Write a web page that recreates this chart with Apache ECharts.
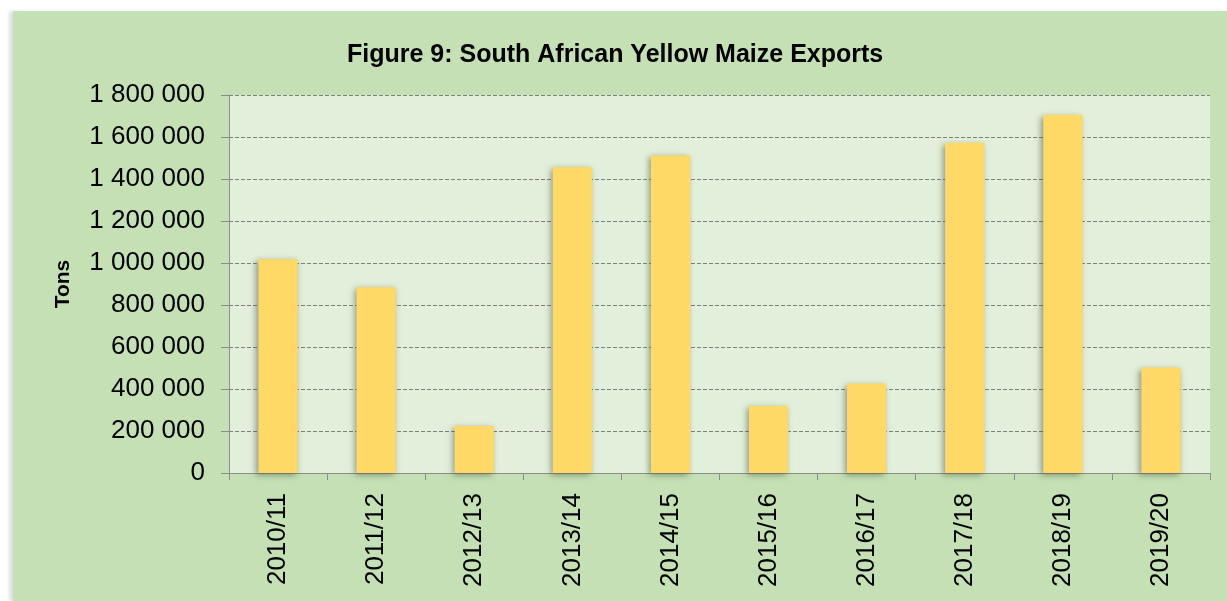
<!DOCTYPE html>
<html>
<head>
<meta charset="utf-8">
<script src="https://cdn.jsdelivr.net/npm/echarts@6/dist/echarts.min.js"></script>
<style>
  html, body { margin: 0; padding: 0; background: #ffffff; width: 1227px; height: 601px; overflow: hidden; }
  #panel { position: absolute; left: 13px; top: 11px; width: 1214px; height: 590px; background: #C5E0B4; box-shadow: -4px 0 3px rgba(0,0,0,0.12); }
  #chart { width: 1214px; height: 590px; }
</style>
</head>
<body>
<div id="panel"><div id="chart"></div></div>
<script>
const titleText = 'Figure 9: South African Yellow Maize Exports';
const yAxisName = 'Tons';
const categories = ['2010/11', '2011/12', '2012/13', '2013/14', '2014/15', '2015/16', '2016/17', '2017/18', '2018/19', '2019/20'];
const exportsTons = [1018000, 885000, 224000, 1456000, 1512000, 319000, 426000, 1573000, 1706000, 502000];
const yMin = 0, yMax = 1800000, yStep = 200000;

function fmt(v) {
  return String(v).replace(/\B(?=(\d{3})+(?!\d))/g, ' ');
}

const FONT = 'Liberation Sans, Arial, sans-serif';
const chart = echarts.init(document.getElementById('chart'), null, { renderer: 'canvas' });
chart.setOption({
  backgroundColor: '#C5E0B4',
  animation: false,
  textStyle: { fontFamily: FONT },
  title: {
    text: titleText,
    left: 329,
    top: 27,
    textStyle: { fontFamily: FONT, fontSize: 25, fontWeight: 'bold', color: '#000' }
  },
  grid: {
    left: 216, top: 84, right: 17, bottom: 128,
    show: true, backgroundColor: '#E2EFDA', borderWidth: 0
  },
  xAxis: {
    type: 'category',
    data: categories,
    axisLine: { lineStyle: { color: '#8C8C8C', width: 1 } },
    axisTick: { show: true, length: 7, lineStyle: { color: '#8C8C8C' } },
    axisLabel: { rotate: 90, margin: 20, fontSize: 26, color: '#000', fontFamily: FONT }
  },
  yAxis: {
    type: 'value',
    min: yMin, max: yMax, interval: yStep,
    name: yAxisName,
    nameLocation: 'middle',
    nameGap: 155,
    nameRotate: 90,
    nameTextStyle: { fontSize: 21, fontWeight: 'bold', color: '#000', fontFamily: FONT },
    axisLine: { show: true, lineStyle: { color: '#8C8C8C', width: 1 } },
    axisTick: { show: true, length: 8, lineStyle: { color: '#8C8C8C' } },
    axisLabel: { margin: 24, fontSize: 26, color: '#000', formatter: fmt, fontFamily: FONT },
    splitLine: { show: true, lineStyle: { color: '#7F7F7F', type: [4, 2], width: 1 } }
  },
  series: [{
    type: 'bar',
    data: exportsTons,
    barWidth: '40%',
    itemStyle: {
      color: '#FED966',
      shadowColor: 'rgba(70,80,60,0.55)',
      shadowBlur: 6,
      shadowOffsetX: -2,
      shadowOffsetY: 2
    }
  }]
});
</script>
</body>
</html>
